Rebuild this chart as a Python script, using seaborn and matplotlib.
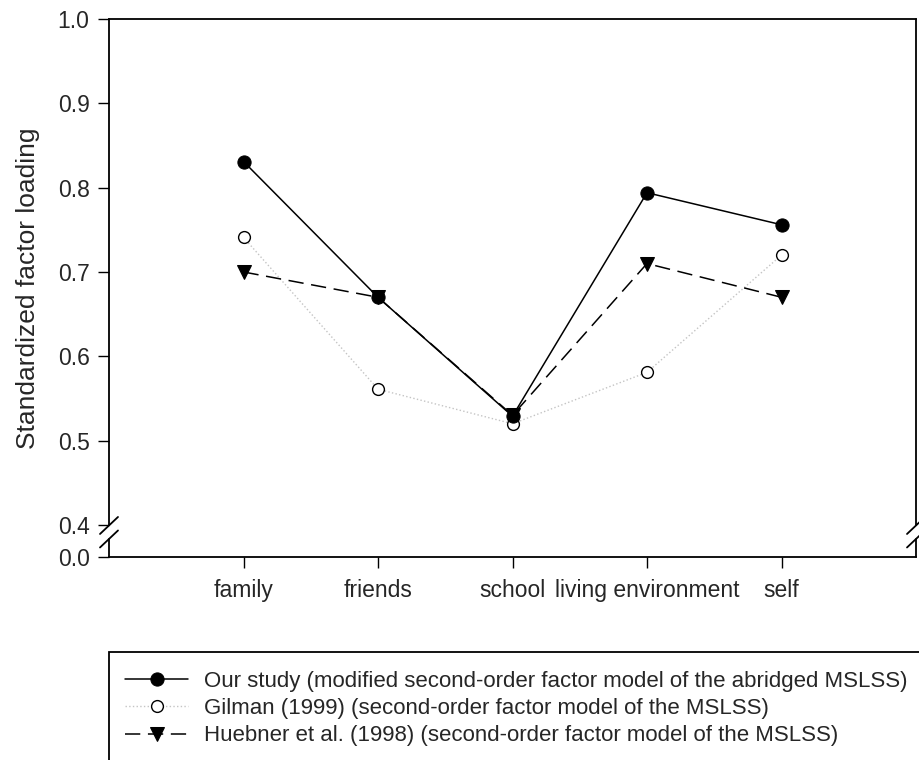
import matplotlib
matplotlib.use("Agg")
import matplotlib.pyplot as plt
import seaborn as sns
import pandas as pd
from matplotlib.patches import Rectangle

categories = ["family", "friends", "school", "living environment", "self"]
our_study = [0.831, 0.670, 0.529, 0.794, 0.756]
gilman = [0.741, 0.561, 0.520, 0.581, 0.720]
huebner = [0.700, 0.670, 0.530, 0.710, 0.670]
series_names = [
    "Our study (modified second-order factor model of the abridged MSLSS)",
    "Gilman (1999) (second-order factor model of the MSLSS)",
    "Huebner et al. (1998) (second-order factor model of the MSLSS)",
]
ytick_values = [0.4, 0.5, 0.6, 0.7, 0.8, 0.9, 1.0]
ytick_labels = ["0.4", "0.5", "0.6", "0.7", "0.8", "0.9", "1.0"]
y_break_bottom = 0.362  # compressed region representing 0.0

sns.set_theme(style="white")
plt.rcParams["font.family"] = ["Liberation Sans", "DejaVu Sans"]

W, H = 919, 760
fig = plt.figure(figsize=(W / 100, H / 100), dpi=100)
ax = fig.add_axes([109 / W, 1 - 557 / H, (916 - 109) / W, (557 - 19) / H])

styles = [
    dict(color="black", linestyle="-", linewidth=1.1, marker="o", markersize=9.5,
         markerfacecolor="black", markeredgecolor="black"),
    dict(color="#c4c4c4", linestyle=":", linewidth=1.0, marker="o", markersize=8.5,
         markerfacecolor="white", markeredgecolor="black", markeredgewidth=1.0),
    dict(color="black", linestyle=(0, (10, 5)), linewidth=1.1, marker="v", markersize=10,
         markerfacecolor="black", markeredgecolor="black"),
]
zorders = [4, 3, 5]
data_sets = [our_study, gilman, huebner]
for i in [1, 0, 2]:
    df = pd.DataFrame({"category": categories, "value": data_sets[i]})
    sns.lineplot(data=df, x="category", y="value", sort=False, ax=ax,
                 label=series_names[i], zorder=zorders[i], **styles[i])

ax.set_xlim(-1, 5)
ax.set_ylim(y_break_bottom, 1.0)
ax.set_yticks([y_break_bottom] + ytick_values)
ax.set_yticklabels(["0.0"] + ytick_labels)
ax.set_xlabel("")
ax.set_ylabel("Standardized factor loading", fontsize=19, labelpad=13)
ax.tick_params(axis="both", direction="out", length=8, width=1.0, color="black",
               labelsize=16.5, pad=6, left=True, bottom=True)
ax.tick_params(axis="x", pad=8)

for s in ["top", "bottom"]:
    ax.spines[s].set_color("black")
    ax.spines[s].set_linewidth(1.3)
for s in ["left", "right"]:
    ax.spines[s].set_visible(False)

# broken vertical spines
gap_top, gap_bot = 0.0586, 0.0335
dx, dy = 9 / 807, 8.5 / 538
for xs in [0, 1]:
    ax.plot([xs, xs], [gap_top, 1], transform=ax.transAxes, color="black", lw=1.3,
            clip_on=False, zorder=6)
    ax.plot([xs, xs], [0, gap_bot], transform=ax.transAxes, color="black", lw=1.3,
            clip_on=False, zorder=6)
    for yc in [gap_top, gap_bot]:
        ax.plot([xs - dx, xs + dx], [yc - dy, yc + dy], transform=ax.transAxes,
                color="black", lw=1.3, clip_on=False, zorder=6)

# legend
handles, labels = ax.get_legend_handles_labels()
idx = [labels.index(n) for n in series_names]
handles = [handles[k] for k in idx]
labels = [labels[k] for k in idx]
ax.legend(handles, labels, loc="upper left", bbox_to_anchor=(125 / W, 1 - 671 / H),
          bbox_transform=fig.transFigure, frameon=False, fontsize=16,
          handlelength=2.85, handletextpad=0.7, labelspacing=0.28,
          borderpad=0, borderaxespad=0, numpoints=1)
rect = Rectangle((109 / W, -0.05), 1.0, (1 - 652 / H) + 0.05, transform=fig.transFigure,
                 fill=False, edgecolor="black", lw=1.3)
fig.patches.append(rect)

fig.savefig("out.png", dpi=100)
